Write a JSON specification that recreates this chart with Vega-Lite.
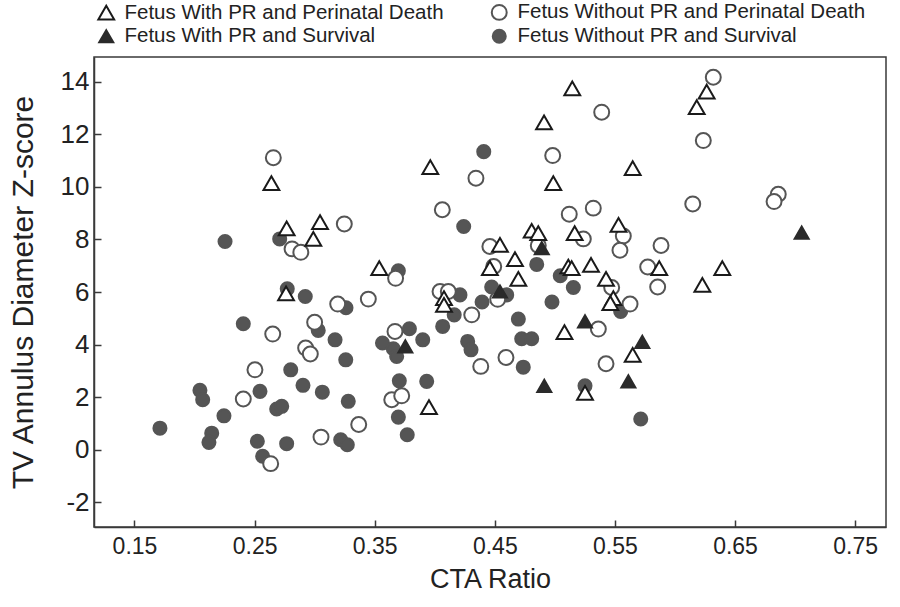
{
  "$schema": "https://vega.github.io/schema/vega-lite/v6.json",
  "width": 792,
  "height": 470,
  "autosize": "none",
  "padding": {"left": 94, "top": 57, "right": 14, "bottom": 80},
  "background": "white",
  "config": {
    "font": "Liberation Sans",
    "view": {"stroke": "#3a3a3a", "strokeWidth": 1.5},
    "axis": {"grid": false, "domainColor": "#3a3a3a", "tickColor": "#3a3a3a", "labelColor": "#222", "titleColor": "#222", "labelFont": "Liberation Sans", "titleFont": "Liberation Sans", "titleFontWeight": "normal", "domainWidth": 1.5, "tickWidth": 1.5}
  },
  "data": {"values": [
    {"x": 0.2254, "y": 7.92, "g": "Fetus Without PR and Survival"},
    {"x": 0.2709, "y": 8.02, "g": "Fetus Without PR and Survival"},
    {"x": 0.2772, "y": 6.12, "g": "Fetus Without PR and Survival"},
    {"x": 0.2922, "y": 5.83, "g": "Fetus Without PR and Survival"},
    {"x": 0.3261, "y": 5.40, "g": "Fetus Without PR and Survival"},
    {"x": 0.2406, "y": 4.79, "g": "Fetus Without PR and Survival"},
    {"x": 0.3030, "y": 4.54, "g": "Fetus Without PR and Survival"},
    {"x": 0.3170, "y": 4.18, "g": "Fetus Without PR and Survival"},
    {"x": 0.3259, "y": 3.42, "g": "Fetus Without PR and Survival"},
    {"x": 0.2801, "y": 3.04, "g": "Fetus Without PR and Survival"},
    {"x": 0.2903, "y": 2.45, "g": "Fetus Without PR and Survival"},
    {"x": 0.3064, "y": 2.19, "g": "Fetus Without PR and Survival"},
    {"x": 0.3280, "y": 1.84, "g": "Fetus Without PR and Survival"},
    {"x": 0.2045, "y": 2.26, "g": "Fetus Without PR and Survival"},
    {"x": 0.2068, "y": 1.90, "g": "Fetus Without PR and Survival"},
    {"x": 0.2545, "y": 2.22, "g": "Fetus Without PR and Survival"},
    {"x": 0.2245, "y": 1.29, "g": "Fetus Without PR and Survival"},
    {"x": 0.2684, "y": 1.55, "g": "Fetus Without PR and Survival"},
    {"x": 0.2726, "y": 1.65, "g": "Fetus Without PR and Survival"},
    {"x": 0.1712, "y": 0.82, "g": "Fetus Without PR and Survival"},
    {"x": 0.2143, "y": 0.63, "g": "Fetus Without PR and Survival"},
    {"x": 0.2120, "y": 0.28, "g": "Fetus Without PR and Survival"},
    {"x": 0.2523, "y": 0.32, "g": "Fetus Without PR and Survival"},
    {"x": 0.2567, "y": -0.25, "g": "Fetus Without PR and Survival"},
    {"x": 0.2767, "y": 0.23, "g": "Fetus Without PR and Survival"},
    {"x": 0.3217, "y": 0.38, "g": "Fetus Without PR and Survival"},
    {"x": 0.3272, "y": 0.19, "g": "Fetus Without PR and Survival"},
    {"x": 0.3565, "y": 4.06, "g": "Fetus Without PR and Survival"},
    {"x": 0.4408, "y": 11.34, "g": "Fetus Without PR and Survival"},
    {"x": 0.4241, "y": 8.49, "g": "Fetus Without PR and Survival"},
    {"x": 0.4849, "y": 7.05, "g": "Fetus Without PR and Survival"},
    {"x": 0.5045, "y": 6.62, "g": "Fetus Without PR and Survival"},
    {"x": 0.5154, "y": 6.17, "g": "Fetus Without PR and Survival"},
    {"x": 0.3697, "y": 6.81, "g": "Fetus Without PR and Survival"},
    {"x": 0.4474, "y": 6.19, "g": "Fetus Without PR and Survival"},
    {"x": 0.4599, "y": 5.89, "g": "Fetus Without PR and Survival"},
    {"x": 0.4210, "y": 5.89, "g": "Fetus Without PR and Survival"},
    {"x": 0.4394, "y": 5.62, "g": "Fetus Without PR and Survival"},
    {"x": 0.4976, "y": 5.62, "g": "Fetus Without PR and Survival"},
    {"x": 0.5548, "y": 5.26, "g": "Fetus Without PR and Survival"},
    {"x": 0.4162, "y": 5.13, "g": "Fetus Without PR and Survival"},
    {"x": 0.4066, "y": 4.69, "g": "Fetus Without PR and Survival"},
    {"x": 0.3789, "y": 4.60, "g": "Fetus Without PR and Survival"},
    {"x": 0.3900, "y": 4.18, "g": "Fetus Without PR and Survival"},
    {"x": 0.3655, "y": 3.84, "g": "Fetus Without PR and Survival"},
    {"x": 0.3683, "y": 3.55, "g": "Fetus Without PR and Survival"},
    {"x": 0.4274, "y": 4.12, "g": "Fetus Without PR and Survival"},
    {"x": 0.4302, "y": 3.80, "g": "Fetus Without PR and Survival"},
    {"x": 0.4696, "y": 4.97, "g": "Fetus Without PR and Survival"},
    {"x": 0.4724, "y": 4.22, "g": "Fetus Without PR and Survival"},
    {"x": 0.4807, "y": 4.22, "g": "Fetus Without PR and Survival"},
    {"x": 0.4737, "y": 3.14, "g": "Fetus Without PR and Survival"},
    {"x": 0.3705, "y": 2.62, "g": "Fetus Without PR and Survival"},
    {"x": 0.3933, "y": 2.60, "g": "Fetus Without PR and Survival"},
    {"x": 0.3697, "y": 1.24, "g": "Fetus Without PR and Survival"},
    {"x": 0.3771, "y": 0.57, "g": "Fetus Without PR and Survival"},
    {"x": 0.5251, "y": 2.43, "g": "Fetus Without PR and Survival"},
    {"x": 0.5715, "y": 1.17, "g": "Fetus Without PR and Survival"},

    {"x": 0.2656, "y": 11.11, "g": "Fetus Without PR and Perinatal Death"},
    {"x": 0.3247, "y": 8.59, "g": "Fetus Without PR and Perinatal Death"},
    {"x": 0.2812, "y": 7.64, "g": "Fetus Without PR and Perinatal Death"},
    {"x": 0.2885, "y": 7.51, "g": "Fetus Without PR and Perinatal Death"},
    {"x": 0.3192, "y": 5.54, "g": "Fetus Without PR and Perinatal Death"},
    {"x": 0.3447, "y": 5.73, "g": "Fetus Without PR and Perinatal Death"},
    {"x": 0.2651, "y": 4.40, "g": "Fetus Without PR and Perinatal Death"},
    {"x": 0.3000, "y": 4.85, "g": "Fetus Without PR and Perinatal Death"},
    {"x": 0.2925, "y": 3.87, "g": "Fetus Without PR and Perinatal Death"},
    {"x": 0.2964, "y": 3.64, "g": "Fetus Without PR and Perinatal Death"},
    {"x": 0.2503, "y": 3.04, "g": "Fetus Without PR and Perinatal Death"},
    {"x": 0.2406, "y": 1.93, "g": "Fetus Without PR and Perinatal Death"},
    {"x": 0.2634, "y": -0.53, "g": "Fetus Without PR and Perinatal Death"},
    {"x": 0.3053, "y": 0.48, "g": "Fetus Without PR and Perinatal Death"},
    {"x": 0.3367, "y": 0.96, "g": "Fetus Without PR and Perinatal Death"},
    {"x": 0.5390, "y": 12.84, "g": "Fetus Without PR and Perinatal Death"},
    {"x": 0.4982, "y": 11.19, "g": "Fetus Without PR and Perinatal Death"},
    {"x": 0.4343, "y": 10.33, "g": "Fetus Without PR and Perinatal Death"},
    {"x": 0.4063, "y": 9.13, "g": "Fetus Without PR and Perinatal Death"},
    {"x": 0.5320, "y": 9.19, "g": "Fetus Without PR and Perinatal Death"},
    {"x": 0.5120, "y": 8.96, "g": "Fetus Without PR and Perinatal Death"},
    {"x": 0.5237, "y": 8.02, "g": "Fetus Without PR and Perinatal Death"},
    {"x": 0.5570, "y": 8.13, "g": "Fetus Without PR and Perinatal Death"},
    {"x": 0.5542, "y": 7.59, "g": "Fetus Without PR and Perinatal Death"},
    {"x": 0.4459, "y": 7.73, "g": "Fetus Without PR and Perinatal Death"},
    {"x": 0.4862, "y": 7.77, "g": "Fetus Without PR and Perinatal Death"},
    {"x": 0.5473, "y": 6.17, "g": "Fetus Without PR and Perinatal Death"},
    {"x": 0.3674, "y": 6.52, "g": "Fetus Without PR and Perinatal Death"},
    {"x": 0.4491, "y": 6.97, "g": "Fetus Without PR and Perinatal Death"},
    {"x": 0.4524, "y": 5.72, "g": "Fetus Without PR and Perinatal Death"},
    {"x": 0.4044, "y": 6.02, "g": "Fetus Without PR and Perinatal Death"},
    {"x": 0.4113, "y": 6.02, "g": "Fetus Without PR and Perinatal Death"},
    {"x": 0.4308, "y": 5.13, "g": "Fetus Without PR and Perinatal Death"},
    {"x": 0.3669, "y": 4.50, "g": "Fetus Without PR and Perinatal Death"},
    {"x": 0.4593, "y": 3.51, "g": "Fetus Without PR and Perinatal Death"},
    {"x": 0.4383, "y": 3.17, "g": "Fetus Without PR and Perinatal Death"},
    {"x": 0.3642, "y": 1.90, "g": "Fetus Without PR and Perinatal Death"},
    {"x": 0.3725, "y": 2.05, "g": "Fetus Without PR and Perinatal Death"},
    {"x": 0.5362, "y": 4.59, "g": "Fetus Without PR and Perinatal Death"},
    {"x": 0.5426, "y": 3.27, "g": "Fetus Without PR and Perinatal Death"},
    {"x": 0.6319, "y": 14.17, "g": "Fetus Without PR and Perinatal Death"},
    {"x": 0.6236, "y": 11.76, "g": "Fetus Without PR and Perinatal Death"},
    {"x": 0.6148, "y": 9.35, "g": "Fetus Without PR and Perinatal Death"},
    {"x": 0.6860, "y": 9.72, "g": "Fetus Without PR and Perinatal Death"},
    {"x": 0.6825, "y": 9.44, "g": "Fetus Without PR and Perinatal Death"},
    {"x": 0.5884, "y": 7.77, "g": "Fetus Without PR and Perinatal Death"},
    {"x": 0.5773, "y": 6.95, "g": "Fetus Without PR and Perinatal Death"},
    {"x": 0.5856, "y": 6.19, "g": "Fetus Without PR and Perinatal Death"},
    {"x": 0.5626, "y": 5.54, "g": "Fetus Without PR and Perinatal Death"},

    {"x": 0.2640, "y": 10.14, "g": "Fetus With PR and Perinatal Death"},
    {"x": 0.2767, "y": 8.42, "g": "Fetus With PR and Perinatal Death"},
    {"x": 0.3045, "y": 8.66, "g": "Fetus With PR and Perinatal Death"},
    {"x": 0.2989, "y": 8.02, "g": "Fetus With PR and Perinatal Death"},
    {"x": 0.2762, "y": 5.95, "g": "Fetus With PR and Perinatal Death"},
    {"x": 0.3538, "y": 6.91, "g": "Fetus With PR and Perinatal Death"},
    {"x": 0.5145, "y": 13.75, "g": "Fetus With PR and Perinatal Death"},
    {"x": 0.4910, "y": 12.45, "g": "Fetus With PR and Perinatal Death"},
    {"x": 0.3963, "y": 10.75, "g": "Fetus With PR and Perinatal Death"},
    {"x": 0.4987, "y": 10.14, "g": "Fetus With PR and Perinatal Death"},
    {"x": 0.4807, "y": 8.33, "g": "Fetus With PR and Perinatal Death"},
    {"x": 0.4862, "y": 8.24, "g": "Fetus With PR and Perinatal Death"},
    {"x": 0.5165, "y": 8.24, "g": "Fetus With PR and Perinatal Death"},
    {"x": 0.5530, "y": 8.55, "g": "Fetus With PR and Perinatal Death"},
    {"x": 0.4543, "y": 7.79, "g": "Fetus With PR and Perinatal Death"},
    {"x": 0.4668, "y": 7.25, "g": "Fetus With PR and Perinatal Death"},
    {"x": 0.5112, "y": 6.97, "g": "Fetus With PR and Perinatal Death"},
    {"x": 0.5140, "y": 6.91, "g": "Fetus With PR and Perinatal Death"},
    {"x": 0.5301, "y": 7.03, "g": "Fetus With PR and Perinatal Death"},
    {"x": 0.5426, "y": 6.50, "g": "Fetus With PR and Perinatal Death"},
    {"x": 0.4696, "y": 6.50, "g": "Fetus With PR and Perinatal Death"},
    {"x": 0.4459, "y": 6.91, "g": "Fetus With PR and Perinatal Death"},
    {"x": 0.4077, "y": 5.77, "g": "Fetus With PR and Perinatal Death"},
    {"x": 0.4077, "y": 5.51, "g": "Fetus With PR and Perinatal Death"},
    {"x": 0.5487, "y": 5.77, "g": "Fetus With PR and Perinatal Death"},
    {"x": 0.5462, "y": 5.58, "g": "Fetus With PR and Perinatal Death"},
    {"x": 0.5080, "y": 4.47, "g": "Fetus With PR and Perinatal Death"},
    {"x": 0.3952, "y": 1.62, "g": "Fetus With PR and Perinatal Death"},
    {"x": 0.5251, "y": 2.16, "g": "Fetus With PR and Perinatal Death"},
    {"x": 0.5648, "y": 3.61, "g": "Fetus With PR and Perinatal Death"},
    {"x": 0.6264, "y": 13.62, "g": "Fetus With PR and Perinatal Death"},
    {"x": 0.6181, "y": 13.03, "g": "Fetus With PR and Perinatal Death"},
    {"x": 0.5648, "y": 10.71, "g": "Fetus With PR and Perinatal Death"},
    {"x": 0.5869, "y": 6.91, "g": "Fetus With PR and Perinatal Death"},
    {"x": 0.6394, "y": 6.91, "g": "Fetus With PR and Perinatal Death"},
    {"x": 0.6228, "y": 6.27, "g": "Fetus With PR and Perinatal Death"},

    {"x": 0.4891, "y": 7.67, "g": "Fetus With PR and Survival"},
    {"x": 0.4543, "y": 6.02, "g": "Fetus With PR and Survival"},
    {"x": 0.3755, "y": 3.93, "g": "Fetus With PR and Survival"},
    {"x": 0.5251, "y": 4.88, "g": "Fetus With PR and Survival"},
    {"x": 0.4912, "y": 2.43, "g": "Fetus With PR and Survival"},
    {"x": 0.7055, "y": 8.26, "g": "Fetus With PR and Survival"},
    {"x": 0.5728, "y": 4.10, "g": "Fetus With PR and Survival"},
    {"x": 0.5612, "y": 2.60, "g": "Fetus With PR and Survival"}
  ]},
  "mark": {"type": "point", "filled": true, "opacity": 1, "strokeWidth": 2},
  "encoding": {
    "x": {"field": "x", "type": "quantitative", "title": "CTA Ratio",
      "scale": {"domain": [0.1163, 0.7757], "nice": false, "zero": false},
      "axis": {"values": [0.15, 0.25, 0.35, 0.45, 0.55, 0.65, 0.75], "format": ".2f", "labelFontSize": 23, "titleFontSize": 27, "tickSize": -7, "labelPadding": 15, "titlePadding": 8}},
    "y": {"field": "y", "type": "quantitative", "title": "TV Annulus Diameter Z-score",
      "scale": {"domain": [-2.94, 14.94], "nice": false, "zero": false},
      "axis": {"values": [-2, 0, 2, 4, 6, 8, 10, 12, 14], "labelExpr": "toString(datum.value)", "labelFontSize": 26, "titleFontSize": 30, "tickSize": -7, "labelPadding": 12, "titlePadding": 22}},
    "shape": {"field": "g", "type": "nominal",
      "scale": {"domain": ["Fetus With PR and Perinatal Death", "Fetus Without PR and Perinatal Death", "Fetus With PR and Survival", "Fetus Without PR and Survival"], "range": ["triangle-up", "circle", "triangle-up", "circle"]},
      "legend": {"title": null, "orient": "none", "legendX": 2, "legendY": -55, "direction": "horizontal", "columns": 2, "columnPadding": 43, "rowPadding": 1, "labelFontSize": 20.5, "labelLimit": 0, "labelFont": "Liberation Sans", "labelColor": "#222", "symbolStrokeWidth": 2, "labelOffset": 8, "padding": 0}},
    "fill": {"field": "g", "type": "nominal",
      "scale": {"domain": ["Fetus With PR and Perinatal Death", "Fetus Without PR and Perinatal Death", "Fetus With PR and Survival", "Fetus Without PR and Survival"], "range": ["#ffffff", "#ffffff", "#2a2a2a", "#555555"]}},
    "stroke": {"field": "g", "type": "nominal",
      "scale": {"domain": ["Fetus With PR and Perinatal Death", "Fetus Without PR and Perinatal Death", "Fetus With PR and Survival", "Fetus Without PR and Survival"], "range": ["#1a1a1a", "#555555", "#2a2a2a", "#555555"]}},
    "size": {"field": "g", "type": "nominal",
      "scale": {"domain": ["Fetus With PR and Perinatal Death", "Fetus Without PR and Perinatal Death", "Fetus With PR and Survival", "Fetus Without PR and Survival"], "range": [250, 170, 260, 220]}}
  }
}
